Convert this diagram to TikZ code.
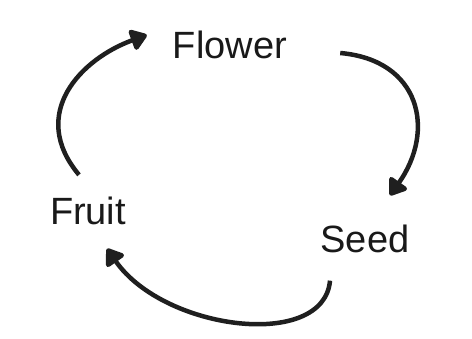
\documentclass[tikz,border=0pt]{standalone}
\usepackage{fontspec}
\setmainfont{Liberation Sans}
\usetikzlibrary{arrows.meta}
\begin{document}
\begin{tikzpicture}[x=1pt,y=1pt,>={Triangle[length=18pt,width=24pt,round]},
    stage/.style={inner sep=0pt,font=\fontsize{38}{40}\selectfont,text=black!90},
    loopline/.style={->,line width=4.5pt,draw=black!88}]
  \useasboundingbox (0,0) rectangle (472,338);
  \node[stage] (flower) at (230,293) {Flower};
  \node[stage] (seed) at (365,99) {Seed};
  \node[stage] (fruit) at (88,127) {Fruit};
  \draw[loopline] ([shift={(53,-8)}]flower.east) .. controls +(80,-7) and +(46,65) .. ([shift={(25,29.5)}]seed.north);
  \draw[loopline] ([shift={(-35,-27.5)}]seed.south) .. controls +(-6,-70) and +(57,-82) .. ([shift={(19,-23.5)}]fruit.south);
  \draw[loopline] ([shift={(-9,22)}]fruit.north) .. controls +(-51,61) and +(-66,-24) .. ([shift={(-26,10)}]flower.west);
\end{tikzpicture}
\end{document}
